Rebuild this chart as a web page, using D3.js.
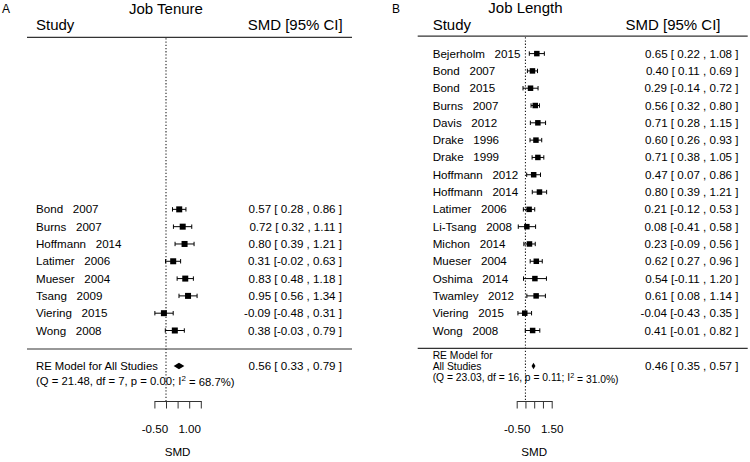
<!DOCTYPE html>
<html><head><meta charset="utf-8">
<script src="https://cdn.jsdelivr.net/npm/d3@7"></script>
<style>
html,body{margin:0;padding:0;background:#fff;}
text{font-family:"Liberation Sans",Arial,Helvetica,sans-serif;fill:#000;white-space:pre;}
</style></head>
<body><svg id="c" width="750" height="462"></svg>
<script>
// ---- Data: Panel A (Job Tenure) ----
const tenureStudies = ["Bond","Burns","Hoffmann","Latimer","Mueser","Tsang","Viering","Wong"];
const tenureYears   = ["2007","2007","2014","2006","2004","2009","2015","2008"];
const tenureSMD     = [0.57, 0.72, 0.80, 0.31, 0.83, 0.95, -0.09, 0.38];
const tenureLower   = [0.28, 0.32, 0.39, -0.02, 0.48, 0.56, -0.48, -0.03];
const tenureUpper   = [0.86, 1.11, 1.21, 0.63, 1.18, 1.34, 0.31, 0.79];
const tenureRE      = [0.56, 0.33, 0.79];
const tenureHet     = ["21.48","7","0.00","68.7"];

// ---- Data: Panel B (Job Length) ----
const lengthStudies = ["Bejerholm","Bond","Bond","Burns","Davis","Drake","Drake","Hoffmann","Hoffmann","Latimer","Li-Tsang","Michon","Mueser","Oshima","Twamley","Viering","Wong"];
const lengthYears   = ["2015","2007","2015","2007","2012","1996","1999","2012","2014","2006","2008","2014","2004","2014","2012","2015","2008"];
const lengthSMD     = [0.65, 0.40, 0.29, 0.56, 0.71, 0.60, 0.71, 0.47, 0.80, 0.21, 0.08, 0.23, 0.62, 0.54, 0.61, -0.04, 0.41];
const lengthLower   = [0.22, 0.11, -0.14, 0.32, 0.28, 0.26, 0.38, 0.07, 0.39, -0.12, -0.41, -0.09, 0.27, -0.11, 0.08, -0.43, -0.01];
const lengthUpper   = [1.08, 0.69, 0.72, 0.80, 1.15, 0.93, 1.05, 0.86, 1.21, 0.53, 0.58, 0.56, 0.96, 1.20, 1.14, 0.35, 0.82];
const lengthRE      = [0.46, 0.35, 0.57];
const lengthHet     = ["23.03","16","0.11","31.0"];

// ---- Axis ticks ----
const axisTicks = [-0.5, 0, 0.5, 1.0, 1.5];
const tenureTickLabels = [-0.5, 1.0];
const lengthTickLabels = [-0.5, 1.5];

const svg = d3.select("#c");
const FS = 11.6;
const y = d3.scaleLinear().domain([0, 16]).range([330.5, 53.6]); // index from bottom

function fmtCI(e, l, h){
  return e.toFixed(2) + " [" + (l < 0 ? "" : " ") + l.toFixed(2) + " , " + h.toFixed(2) + " ]";
}

function panel(o){
  const g = svg.append("g");
  const x = d3.scaleLinear().domain([-0.5, 1.5]).range(o.xr);
  const n = o.studies.length;
  const rows = o.studies.map((s,i)=>({name:s, year:o.years[i], est:o.est[i], lo:o.lo[i], hi:o.hi[i], yy:y(n-1-i)}));

  g.append("text").attr("x", o.letterX).attr("y", 9).attr("dy","0.35em").attr("font-size",12).text(o.letter);
  g.append("text").attr("x", x(0)).attr("y", o.titleY).attr("dy","0.35em").attr("text-anchor","middle").attr("font-size",15).text(o.title);
  g.append("text").attr("x", o.labelX).attr("y", 24.5).attr("dy","0.35em").attr("font-size",15).text("Study");
  g.append("text").attr("x", o.headRight).attr("y", 24.5).attr("dy","0.35em").attr("text-anchor","end").attr("font-size",15).text("SMD [95% CI]");

  g.append("line").attr("x1", o.ruleX[0]).attr("x2", o.ruleX[1]).attr("y1", o.headLineY).attr("y2", o.headLineY).attr("stroke","#333").attr("stroke-width",1.2);
  g.append("line").attr("x1", o.ruleX[0]).attr("x2", o.ruleX[1]).attr("y1", o.sepY).attr("y2", o.sepY).attr("stroke","#333").attr("stroke-width",1.2);

  g.append("line").attr("x1", x(0)).attr("x2", x(0)).attr("y1", o.headLineY+1).attr("y2", 401)
    .attr("stroke","#222").attr("stroke-width",1.1).attr("stroke-dasharray","1.3,1.9");

  const r = g.selectAll("g.row").data(rows).join("g").attr("class","row");
  r.append("text").attr("x", o.labelX).attr("y", d=>d.yy).attr("dy","0.35em").attr("font-size",FS)
    .text(d=>d.name + "   " + d.year);
  r.append("line").attr("x1", d=>x(d.lo)).attr("x2", d=>x(d.hi)).attr("y1", d=>d.yy).attr("y2", d=>d.yy).attr("stroke","#000").attr("stroke-width",1);
  r.append("line").attr("x1", d=>x(d.lo)).attr("x2", d=>x(d.lo)).attr("y1", d=>d.yy-2.2).attr("y2", d=>d.yy+2.2).attr("stroke","#000").attr("stroke-width",1);
  r.append("line").attr("x1", d=>x(d.hi)).attr("x2", d=>x(d.hi)).attr("y1", d=>d.yy-2.2).attr("y2", d=>d.yy+2.2).attr("stroke","#000").attr("stroke-width",1);
  r.append("rect").attr("x", d=>x(d.est)-o.sq/2).attr("y", d=>d.yy-o.sq/2).attr("width", o.sq).attr("height", o.sq).attr("fill","#000");
  r.append("text").attr("x", o.valRight).attr("y", d=>d.yy).attr("dy","0.35em").attr("text-anchor","end").attr("font-size",FS)
    .text(d=>fmtCI(d.est,d.lo,d.hi));

  o.reLabel.forEach((t,i)=>{
    g.append("text").attr("x", o.labelX).attr("y", o.reLabelY[i]).attr("dy","0.35em").attr("font-size",o.sumFS).text(t);
  });
  const dy = o.diamondY, hh = 3.2;
  g.append("path").attr("d", `M${x(o.re[1])},${dy} L${x(o.re[0])},${dy-hh} L${x(o.re[2])},${dy} L${x(o.re[0])},${dy+hh} Z`).attr("fill","#000");
  g.append("text").attr("x", o.valRight).attr("y", dy).attr("dy","0.35em").attr("text-anchor","end").attr("font-size",FS)
    .text(fmtCI(o.re[0],o.re[1],o.re[2]));
  const q = g.append("text").attr("x", o.labelX).attr("y", o.qY).attr("dy","0.35em").attr("font-size",o.sumFS);
  q.append("tspan").text(`(Q = ${o.het[0]}, df = ${o.het[1]}, p = ${o.het[2]}; I`);
  q.append("tspan").attr("dy","-0.45em").attr("font-size",o.sumFS*0.7).text("2");
  q.append("tspan").attr("dy","0.45em").text(` = ${o.het[3]}%)`);

  const ax = g.append("g").attr("transform","translate(0,401)")
    .call(d3.axisBottom(x).tickValues(axisTicks).tickSize(7.5).tickSizeOuter(0).tickPadding(16)
      .tickFormat(v => o.tickLabels.includes(v) ? d3.format(".2f")(v).replace("−","-") : ""));
  ax.select(".domain").attr("stroke","#333");
  ax.selectAll(".tick line").attr("stroke","#333");
  ax.selectAll(".tick text").attr("font-size",FS).attr("font-family",'"Liberation Sans",Arial,sans-serif').attr("fill","#000");
  g.append("text").attr("x", (o.xr[0]+o.xr[1])/2).attr("y", 452).attr("dy","0.35em").attr("text-anchor","middle").attr("font-size",FS).text("SMD");
}

panel({letter:"A", letterX:2, title:"Job Tenure", titleY:9, studies:tenureStudies, years:tenureYears, est:tenureSMD, lo:tenureLower, hi:tenureUpper,
  re:tenureRE, het:tenureHet, xr:[154.4,200.8], labelX:36, headRight:342.7, valRight:342, ruleX:[27,352], headLineY:37.3, sepY:349,
  sq:6, sumFS:11.3, reLabel:["RE Model for All Studies"], reLabelY:[366], diamondY:366, qY:381, tickLabels:tenureTickLabels});

panel({letter:"B", letterX:392, title:"Job Length", titleY:7.5, studies:lengthStudies, years:lengthYears, est:lengthSMD, lo:lengthLower, hi:lengthUpper,
  re:lengthRE, het:lengthHet, xr:[516.7,551.7], labelX:432.7, headRight:720.5, valRight:738.5, ruleX:[417.7,747.7], headLineY:36.2, sepY:348.3,
  sq:5.5, sumFS:10.3, reLabel:["RE Model for","All Studies"], reLabelY:[355.2,366.5], diamondY:366, qY:377.8, tickLabels:lengthTickLabels});
</script></body></html>
